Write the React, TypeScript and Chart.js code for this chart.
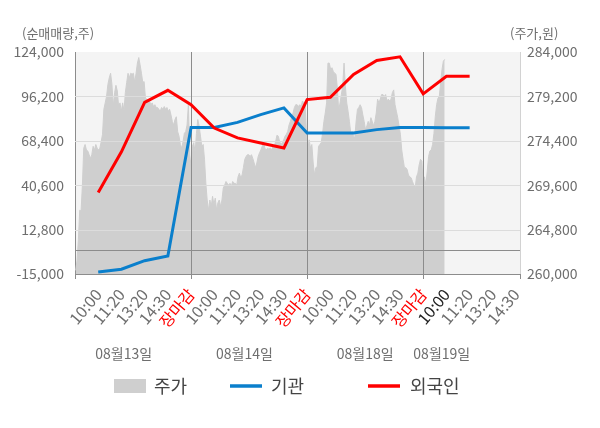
import React, { useEffect, useRef } from 'react';
import { Chart, registerables } from 'chart.js';

Chart.register(...registerables);

const FONT = "'Noto Sans CJK KR', 'Noto Sans', sans-serif";

// x-axis tick labels (one slot each)
const timeLabels = [
  '10:00', '11:20', '13:20', '14:30', '장마감',
  '10:00', '11:20', '13:20', '14:30', '장마감',
  '10:00', '11:20', '13:20', '14:30', '장마감',
  '10:00', '11:20', '13:20', '14:30',
];
const currentLabelIndex = 15;
const dayLabels = ['08월13일', '08월14일', '08월18일', '08월19일'];
const dayLabelAt = [2.1, 7.3, 12.5, 15.8];

// net buying (shares), one point per time slot starting at slot 1
const institutionNet = [-13700, -12000, -6650, -3700, 76800, 76800, 79950, 84800, 89000, 73300, 73300, 73300, 75400, 76800, 76800, 76600, 76600];
const foreignNet = [36100, 61500, 92500, 100000, 91000, 76400, 70200, 67000, 63900, 94200, 95600, 109900, 118700, 121000, 97800, 108800, 108800];

// intraday price (KRW) samples
const priceDay1 = [
  260400, 261500, 263700, 266900, 266800, 269600, 273600, 274000, 273400, 273300,
  272900, 272500, 272900, 273800, 273400, 274000, 273600, 273400, 273600, 274300,
  275100, 277800, 278500, 279200, 280500, 281200, 281700, 280500, 278100, 279600,
  280400, 279800, 278100, 278500, 277600, 278500, 277600, 279600, 280700, 281700,
  281200, 281700, 281600, 281700, 280700, 281700, 282800, 283400, 282600, 281700,
  280700, 280800, 279000, 278900, 278500, 278700, 278300, 278500, 278100, 278300,
  278000, 278000, 277800, 277600, 278000, 277800, 278100, 277800, 278000, 277600,
  277800, 277200, 276500, 276100, 276700, 277000, 275400, 274900, 274000, 273600,
  274300, 275200, 275400, 276100, 278300,
];
const priceDay2 = [
  272900, 271600, 273800, 274200, 273100, 275200, 276700, 276000, 274900, 273800,
  274000, 272400, 269800, 268000, 266900, 268000, 267300, 268400, 267500, 268200,
  266900, 267700, 268000, 267300, 268000, 269300, 269600, 270000, 269800, 269600,
  269800, 269500, 270000, 269800, 269800, 269600, 270500, 270900, 270400, 270700,
  271500, 272400, 272700, 272900, 272900, 272700, 272900, 272500, 272000, 271500,
  272000, 272700, 273100, 273400, 273800, 274200, 273600, 273400, 273600, 273500,
  273600, 273400, 273800, 273800, 274300, 275000, 274900, 274300, 274000, 274200,
  274500, 274900, 275100, 275400, 276100, 276500, 277000, 277400, 278000, 278300,
  278300, 278100, 278300, 278100, 278700, 278500, 278300,
];
const priceDay3and4 = [
  275200, 273400, 274500, 273600, 274000, 272000, 270700, 271500, 271600, 273800,
  274000, 274200, 275200, 276500, 277400, 278500, 282800, 282800, 282100, 282300,
  281900, 281700, 281600, 280100, 277600, 278500, 279400, 280300, 282800, 280300,
  278500, 277600, 276500, 275200, 275400, 274900, 274700, 276500, 277800, 278000,
  278300, 278000, 277200, 276500, 275600, 276000, 276500, 276100, 276900, 276500,
  276000, 276500, 277400, 278900, 278500, 278900, 279400, 279400, 279200, 279400,
  278700, 278900, 278700, 278900, 279600, 279900, 278300, 277600, 276900, 276000,
  275100, 273400, 272400, 271500, 271500, 271300, 270700, 270500, 270400, 270000,
  269600, 269300, 270500, 270900, 271800, 272400, 272200, 269600, 270500, 269600,
  271100, 272700, 273300, 273400, 274000, 275200, 277000, 278300, 279000, 279200,
  280700, 282100, 283000, 283200,
];
const priceSeries = [...priceDay1, ...priceDay2, ...priceDay3and4];
const priceStart = 0.03;
const priceStep = 0.0578;

const leftTicks = [-15000, 12800, 40600, 68400, 96200, 124000];
const rightTicks = [260000, 264800, 269600, 274400, 279200, 284000];

const GRID = '#dcdcdc';
const DARK = '#8c8c8c';
const LABEL = '#6e6e6e';

const decor = {
  id: 'decor',
  beforeDraw(chart: any) {
    const { ctx, chartArea: a } = chart;
    ctx.save();
    ctx.fillStyle = '#ffffff';
    ctx.fillRect(0, 0, chart.width, chart.height);
    ctx.fillStyle = '#f4f4f4';
    ctx.fillRect(a.left, a.top, a.right - a.left, a.bottom - a.top);
    ctx.restore();
  },
  afterDatasetDraw(chart: any, args: any) {
    if (args.index !== 2) return;
    const { ctx, chartArea: a, scales } = chart;
    const y = scales.y;
    const x = scales.x;
    ctx.save();
    ctx.lineWidth = 1;
    ctx.strokeStyle = GRID;
    leftTicks.slice(1, -1).forEach((v) => {
      const py = Math.round(y.getPixelForValue(v)) + 0.5;
      ctx.beginPath();
      ctx.moveTo(a.left, py);
      ctx.lineTo(a.right, py);
      ctx.stroke();
    });
    ctx.strokeStyle = DARK;
    const zy = Math.round(y.getPixelForValue(0)) + 0.5;
    ctx.beginPath();
    ctx.moveTo(a.left, zy);
    ctx.lineTo(a.right, zy);
    ctx.stroke();
    timeLabels.forEach((t, i) => {
      if (t !== '장마감') return;
      const px = Math.round(x.getPixelForValue(i + 1)) + 0.5;
      ctx.beginPath();
      ctx.moveTo(px, a.top);
      ctx.lineTo(px, a.bottom);
      ctx.stroke();
    });
    ctx.restore();
  },
  afterDraw(chart: any) {
    const { ctx, chartArea: a, scales } = chart;
    const x = scales.x;
    ctx.save();
    // edge tick marks
    ctx.strokeStyle = DARK;
    ctx.lineWidth = 1;
    [a.left, a.right].forEach((px: number) => {
      const p = Math.round(px) + 0.5;
      ctx.beginPath();
      ctx.moveTo(p, a.bottom);
      ctx.lineTo(p, a.bottom + 5);
      ctx.stroke();
    });
    // axis titles
    ctx.fillStyle = LABEL;
    ctx.textBaseline = 'middle';
    ctx.font = `13px ${FONT}`;
    ctx.textAlign = 'left';
    ctx.fillText('(순매매량,주)', 22, 33);
    ctx.fillText('(주가,원)', 510, 33);
    // date labels
    ctx.font = `14px ${FONT}`;
    ctx.textAlign = 'center';
    dayLabels.forEach((d, i) => {
      ctx.fillText(d, x.getPixelForValue(dayLabelAt[i]), 354);
    });
    // legend
    const ly = 386;
    ctx.font = `18px ${FONT}`;
    ctx.textAlign = 'left';
    ctx.fillStyle = '#cfcfcf';
    ctx.fillRect(114, 379, 32, 14);
    ctx.fillStyle = '#444';
    ctx.fillText('주가', 154, ly);
    ctx.lineWidth = 3.5;
    ctx.strokeStyle = '#0a7fcc';
    ctx.beginPath();
    ctx.moveTo(230, ly);
    ctx.lineTo(262, ly);
    ctx.stroke();
    ctx.fillText('기관', 271, ly);
    ctx.strokeStyle = '#ff0000';
    ctx.beginPath();
    ctx.moveTo(368, ly);
    ctx.lineTo(400, ly);
    ctx.stroke();
    ctx.fillText('외국인', 410, ly);
    ctx.restore();
  },
};

export default function App() {
  const ref = useRef<HTMLCanvasElement | null>(null);

  useEffect(() => {
    document.body.style.margin = '0';
    const canvas = ref.current;
    if (!canvas) return;
    const chart = new Chart(canvas, {
      type: 'line',
      data: {
        datasets: [
          {
            label: '외국인',
            data: foreignNet.map((v, i) => ({ x: i + 1, y: v })),
            yAxisID: 'y',
            borderColor: '#ff0000',
            borderWidth: 3,
            pointRadius: 0,
            fill: false,
            tension: 0,
            order: 1,
          },
          {
            label: '기관',
            data: institutionNet.map((v, i) => ({ x: i + 1, y: v })),
            yAxisID: 'y',
            borderColor: '#0a7fcc',
            borderWidth: 3,
            pointRadius: 0,
            fill: false,
            tension: 0,
            order: 2,
          },
          {
            label: '주가',
            data: priceSeries.map((p, i) => ({ x: priceStart + i * priceStep, y: p })),
            yAxisID: 'y1',
            borderColor: '#cfcfcf',
            borderWidth: 1,
            backgroundColor: '#cfcfcf',
            pointRadius: 0,
            fill: 'start',
            tension: 0,
            order: 3,
          },
        ],
      },
      options: {
        responsive: false,
        animation: false,
        devicePixelRatio: 1,
        layout: { padding: { top: 52, left: 0, right: 0, bottom: 0 } },
        plugins: { legend: { display: false }, tooltip: { enabled: false } },
        scales: {
          x: {
            type: 'linear',
            min: 0,
            max: 19.17,
            afterBuildTicks: (s: any) => {
              s.ticks = timeLabels.map((_, i) => ({ value: i + 1 }));
            },
            afterFit: (s: any) => {
              s.height = 154;
            },
            ticks: {
              autoSkip: false,
              minRotation: 50,
              maxRotation: 50,
              padding: 6,
              font: { family: FONT, size: 16 },
              color: (c: any) => {
                const idx = Math.round(c.tick.value) - 1;
                if (timeLabels[idx] === '장마감') return '#ff0000';
                if (idx === currentLabelIndex) return '#222222';
                return LABEL;
              },
              callback: (v: any) => timeLabels[Math.round(Number(v)) - 1] ?? '',
            },
            grid: {
              drawOnChartArea: false,
              drawTicks: true,
              tickLength: 5,
              color: (c: any) => {
                const idx = c.tick ? Math.round(c.tick.value) - 1 : -1;
                return timeLabels[idx] === '장마감' ? DARK : 'rgba(0,0,0,0)';
              },
            },
            border: { color: DARK },
          },
          y: {
            type: 'linear',
            position: 'left',
            min: -15000,
            max: 124000,
            afterBuildTicks: (s: any) => {
              s.ticks = leftTicks.map((v) => ({ value: v }));
            },
            afterFit: (s: any) => {
              s.width = 75;
            },
            ticks: {
              padding: 11,
              color: LABEL,
              font: { family: FONT, size: 14 },
              callback: (v: any) => Number(v).toLocaleString('en-US'),
            },
            grid: { drawOnChartArea: false, drawTicks: false },
            border: { color: DARK },
          },
          y1: {
            type: 'linear',
            position: 'right',
            min: 260000,
            max: 284000,
            afterBuildTicks: (s: any) => {
              s.ticks = rightTicks.map((v) => ({ value: v }));
            },
            afterFit: (s: any) => {
              s.width = 80;
            },
            ticks: {
              padding: 7,
              color: LABEL,
              font: { family: FONT, size: 14 },
              callback: (v: any) => Number(v).toLocaleString('en-US'),
            },
            grid: { drawOnChartArea: false, drawTicks: false },
            border: { color: '#d2d2d2' },
          },
        },
      },
      plugins: [decor],
    } as any);
    return () => chart.destroy();
  }, []);

  return (
    <div style={{ width: 600, height: 428 }}>
      <canvas ref={ref} width={600} height={428} style={{ width: 600, height: 428, display: 'block' }} />
    </div>
  );
}
